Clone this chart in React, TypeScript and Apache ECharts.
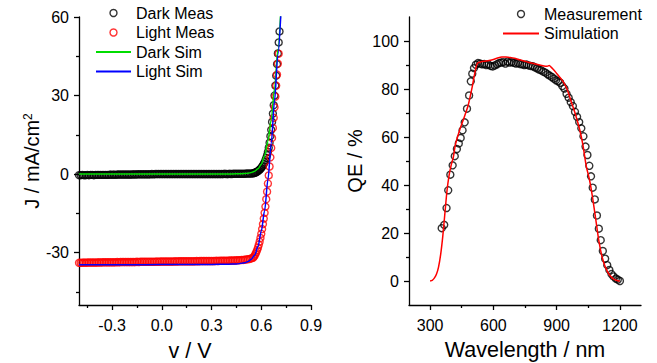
import React, { useEffect, useRef } from 'react';
import * as echarts from 'echarts';

const FONT = "'Liberation Sans', Arial, Helvetica, sans-serif";

// ---------- Left panel: J-V ----------
const measV = [
  -0.5, -0.49, -0.48, -0.47, -0.46, -0.45, -0.44, -0.43, -0.42, -0.41,
  -0.4, -0.39, -0.38, -0.37, -0.36, -0.35, -0.34, -0.33, -0.32, -0.31,
  -0.3, -0.29, -0.28, -0.27, -0.26, -0.25, -0.24, -0.23, -0.22, -0.21,
  -0.2, -0.19, -0.18, -0.17, -0.16, -0.15, -0.14, -0.13, -0.12, -0.11,
  -0.1, -0.09, -0.08, -0.07, -0.06, -0.05, -0.04, -0.03, -0.02, -0.01,
  0.0, 0.01, 0.02, 0.03, 0.04, 0.05, 0.06, 0.07, 0.08, 0.09,
  0.1, 0.11, 0.12, 0.13, 0.14, 0.15, 0.16, 0.17, 0.18, 0.19,
  0.2, 0.21, 0.22, 0.23, 0.24, 0.25, 0.26, 0.27, 0.28, 0.29,
  0.3, 0.31, 0.32, 0.33, 0.34, 0.35, 0.36, 0.37, 0.38, 0.39,
  0.4, 0.41, 0.42, 0.43, 0.44, 0.45, 0.46, 0.47, 0.48, 0.49,
  0.5, 0.51, 0.52, 0.53, 0.54,
  0.55, 0.555, 0.56, 0.565, 0.57, 0.575, 0.58, 0.585, 0.59, 0.595,
  0.6, 0.605, 0.61, 0.615, 0.62, 0.625, 0.63, 0.635, 0.64, 0.645,
  0.65, 0.655, 0.66, 0.665, 0.67, 0.675, 0.68, 0.685, 0.69, 0.695,
  0.7, 0.705, 0.71,
];
const darkMeasJ = [
  -0.4, -0.4, -0.3, -0.4, -0.4, -0.3, -0.4, -0.3, -0.3, -0.4,
  -0.3, -0.3, -0.3, -0.3, -0.3, -0.3, -0.3, -0.3, -0.3, -0.2,
  -0.3, -0.2, -0.3, -0.2, -0.2, -0.2, -0.2, -0.2, -0.2, -0.2,
  -0.2, -0.2, -0.2, -0.1, -0.2, -0.1, -0.1, -0.1, -0.1, -0.1,
  -0.1, -0.1, -0.1, -0.1, 0.0, -0.1, 0.0, 0.0, 0.0, 0.0,
  0.0, 0.0, 0.0, 0.0, 0.0, 0.0, 0.0, 0.0, 0.0, 0.0,
  0.0, 0.0, 0.0, 0.0, 0.0, 0.0, 0.0, 0.0, 0.0, 0.0,
  0.0, 0.0, 0.0, 0.0, 0.0, 0.0, 0.0, 0.0, 0.0, 0.0,
  0.0, 0.0, 0.0, 0.0, 0.0, 0.0, 0.0, 0.0, 0.1, 0.0,
  0.0, 0.1, 0.0, 0.1, 0.1, 0.1, 0.1, 0.1, 0.1, 0.1,
  0.1, 0.2, 0.2, 0.2, 0.2,
  0.3, 0.4, 0.5, 0.6, 0.75, 0.9, 1.15, 1.4, 1.7, 2.0,
  2.4, 2.8, 3.3, 3.9, 4.5, 5.3, 6.2, 7.2, 8.5, 10.1,
  12.0, 14.5, 16.9, 19.9, 23.1, 26.3, 30.0, 33.8, 37.6, 42.0,
  46.1, 50.3, 54.5,
];
const lightMeasJ: (number | null)[] = [
  -33.9, -33.9, -33.9, -33.8, -33.9, -33.8, -33.8, -33.8, -33.8, -33.8,
  -33.8, -33.8, -33.7, -33.8, -33.7, -33.7, -33.7, -33.7, -33.7, -33.7,
  -33.7, -33.7, -33.7, -33.6, -33.7, -33.6, -33.6, -33.6, -33.6, -33.6,
  -33.6, -33.6, -33.6, -33.6, -33.6, -33.5, -33.6, -33.5, -33.5, -33.5,
  -33.5, -33.5, -33.5, -33.5, -33.5, -33.5, -33.5, -33.4, -33.5, -33.4,
  -33.4, -33.4, -33.4, -33.4, -33.4, -33.4, -33.4, -33.4, -33.3, -33.4,
  -33.3, -33.3, -33.3, -33.3, -33.3, -33.3, -33.3, -33.3, -33.3, -33.3,
  -33.3, -33.2, -33.3, -33.2, -33.2, -33.2, -33.2, -33.2, -33.2, -33.2,
  -33.2, -33.2, -33.2, -33.1, -33.2, -33.1, -33.1, -33.1, -33.1, -33.1,
  -33.1, -33.0, -33.0, -33.0, -33.0, -32.9, -32.9, -32.9, -32.8, -32.8,
  -32.7, -32.6, -32.5, -32.4, -32.2,
  -32.0, -31.6, -31.1, -30.5, -29.8, -29.0, -28.1, -27.0, -25.8, -24.4,
  -22.8, -21.0, -19.1, -17.0, -14.8, -12.4, -9.6, -6.7, -3.6, -0.5,
  2.9, 6.4, 10.0, 13.8, 17.6, 21.5, 25.5, 29.6, 33.8, 38.0,
  42.2, 46.0, null,
];
const simV = [-0.5, -0.3, -0.1, 0.1, 0.3, 0.4, 0.45, 0.5, 0.52, 0.54, 0.56, 0.58, 0.6, 0.62, 0.64, 0.66, 0.68, 0.7, 0.72];
const darkSimJ = [0, 0, 0, 0, 0, 0.05, 0.1, 0.2, 0.35, 0.6, 1.1, 2.0, 3.8, 7.0, 12.5, 20.8, 32.5, 47.5, 65.5];
const lightSimJ = [-34.6, -34.6, -34.6, -34.55, -34.5, -34.4, -34.3, -33.9, -33.4, -32.5, -31.0, -27.7, -21.8, -14.0, -2.2, 11.8, 28.0, 45.5, 63.5];

const jvXMajor = [-0.3, 0, 0.3, 0.6, 0.9];
const jvXMinor = [-0.45, -0.15, 0.15, 0.45, 0.75];
const jvYMajor = [-30, 0, 30, 60];
const jvYMinor = [-45, -15, 15, 45];

// ---------- Right panel: QE ----------
const qeMeasWl = [
  355, 367, 378, 386, 396, 407, 417, 427, 436, 445,
  454, 464, 475, 485, 493, 500, 508, 517, 527, 537,
  547, 557, 567, 577, 587, 597, 607, 617, 627, 637,
  647, 657, 667, 677, 687, 697, 707, 717, 727, 737,
  747, 757, 767, 777, 787, 797, 807, 817, 827, 837,
  847, 857, 867, 877, 887, 897, 907, 917, 927, 937,
  947, 957, 967, 977, 987, 997, 1007, 1017, 1027, 1037,
  1046, 1055, 1063, 1071, 1081, 1091, 1100, 1109, 1119, 1130,
  1140, 1150, 1160, 1170, 1181, 1190, 1200,
];
const qeMeasVal = [
  22.0, 23.4, 30.4, 37.8, 44.3, 48.2, 52.0, 55.0, 57.3, 59.6,
  62.8, 66.1, 71.8, 77.3, 83.2, 86.4, 88.7, 90.1, 90.8, 90.6,
  90.3, 90.4, 90.0, 90.2, 89.6, 89.4, 89.8, 90.3, 90.8, 91.0,
  91.2, 90.6, 91.4, 91.0, 91.2, 90.9, 90.6, 90.8, 90.4, 90.3,
  90.0, 90.2, 89.8, 89.6, 89.5, 89.0, 88.6, 88.1, 87.8, 87.2,
  86.8, 86.1, 85.6, 85.0, 84.3, 83.6, 83.2, 82.6, 81.2, 80.2,
  78.0, 76.4, 74.5, 72.9, 70.5, 68.4, 66.2, 63.6, 60.3, 56.0,
  52.5, 48.0, 43.6, 38.9, 34.0, 27.3, 21.8, 17.0, 12.5, 9.3,
  6.6, 4.6, 2.9, 1.9, 1.0, 0.6, 0.0,
];
const qeSimWl = [
  300, 310, 320, 330, 340, 350, 360, 370, 380, 390,
  400, 410, 420, 440, 460, 480, 500, 515, 525, 540,
  560, 580, 600, 620, 640, 660, 680, 700, 720, 740,
  760, 780, 800, 820, 840, 855, 865, 875, 890, 910,
  930, 950, 970, 990, 1010, 1025, 1040, 1055, 1070, 1085,
  1100, 1115, 1130, 1150, 1170, 1190, 1200,
];
const qeSimVal = [
  0, 0.3, 1.2, 2.8, 5.8, 11.0, 18.5, 28.0, 37.5, 44.0,
  48.3, 51.5, 56.8, 62.8, 67.8, 73.0, 81.0, 88.0, 90.8, 91.3,
  91.6, 91.9, 92.3, 92.9, 93.3, 93.3, 93.1, 92.8, 92.3, 91.8,
  91.3, 90.8, 90.4, 90.0, 89.6, 89.5, 89.8, 89.0, 87.6, 85.4,
  83.2, 79.8, 74.5, 69.2, 62.8, 56.5, 48.0, 42.5, 35.0, 26.0,
  16.8, 10.2, 6.0, 2.6, 0.8, 0.1, 0,
];

const qeXMajor = [300, 600, 900, 1200];
const qeXMinor = [450, 750, 1050];
const qeYMajor = [0, 20, 40, 60, 80, 100];
const qeYMinor = [10, 30, 50, 70, 90];

// ---------- helpers ----------
const axisLineStyle = { color: '#000', width: 1.3 };
const labelStyle = { fontFamily: FONT, fontSize: 16, color: '#000' };

function mainAxis(dim: 'x' | 'y', gridIndex: number, min: number, max: number, majors: number[], name: string, nameGap: number, nameStyle: any, fmt: (v: number) => string) {
  return {
    type: 'value',
    gridIndex,
    min,
    max,
    position: dim === 'x' ? 'bottom' : 'left',
    name,
    nameLocation: 'middle',
    nameGap,
    nameTextStyle: nameStyle,
    axisLine: { show: true, onZero: false, lineStyle: axisLineStyle },
    axisTick: { show: true, customValues: majors, length: 5, lineStyle: axisLineStyle },
    axisLabel: { show: true, customValues: majors, formatter: fmt, margin: dim === 'x' ? 12 : 10, ...labelStyle },
    splitLine: { show: false },
  };
}
function minorAxis(dim: 'x' | 'y', gridIndex: number, min: number, max: number, minors: number[]) {
  return {
    type: 'value',
    gridIndex,
    min,
    max,
    position: dim === 'x' ? 'bottom' : 'left',
    axisLine: { show: false, onZero: false },
    axisTick: { show: true, customValues: minors, length: 3, lineStyle: axisLineStyle },
    axisLabel: { show: false },
    splitLine: { show: false },
  };
}

const plain = (v: number) => String(v);
const xNameStyle = { fontFamily: FONT, fontSize: 21.5, color: '#000' };
const yNameStyle = { fontFamily: FONT, fontSize: 20, color: '#000' };
const jNameStyle = {
  fontFamily: FONT,
  fontSize: 20,
  color: '#000',
  rich: {
    a: { fontFamily: FONT, fontSize: 20, color: '#000' },
    s: { fontFamily: FONT, fontSize: 12, color: '#000', verticalAlign: 'top' },
  },
};

const emptyMarker = (c: string) => ({ color: 'rgba(0,0,0,0)', borderColor: c, borderWidth: 1.4 });
const noSymbol = { color: 'rgba(0,0,0,0)', borderColor: 'rgba(0,0,0,0)', borderWidth: 0 };

const option: any = {
  animation: false,
  backgroundColor: '#fff',
  grid: [
    { left: 79, top: 17, width: 232, height: 288, outerBoundsMode: 'none', containLabel: false },
    { left: 409, top: 17, width: 232, height: 288, outerBoundsMode: 'none', containLabel: false },
  ],
  legend: [
    {
      left: 95,
      top: 5,
      padding: 0,
      orient: 'vertical',
      itemWidth: 35,
      itemHeight: 7,
      itemGap: 3.5,
      selectedMode: false,
      textStyle: { fontFamily: FONT, fontSize: 16, color: '#000' },
      data: [
        { name: 'Dark Meas', icon: 'circle', itemStyle: emptyMarker('#000') },
        { name: 'Light Meas', icon: 'circle', itemStyle: emptyMarker('#ff0000') },
        { name: 'Dark Sim', itemStyle: noSymbol },
        { name: 'Light Sim', itemStyle: noSymbol },
      ],
    },
    {
      left: 502,
      top: 6,
      padding: 0,
      orient: 'vertical',
      itemWidth: 36,
      itemHeight: 7,
      itemGap: 3.5,
      selectedMode: false,
      textStyle: { fontFamily: FONT, fontSize: 16, color: '#000' },
      data: [
        { name: 'Measurement', icon: 'circle', itemStyle: emptyMarker('#000') },
        { name: 'Simulation', itemStyle: noSymbol },
      ],
    },
  ],
  xAxis: [
    mainAxis('x', 0, -0.5, 0.9, jvXMajor, 'v / V', 35, { ...xNameStyle, padding: [0, 10, 0, 0] }, (v: number) => v.toFixed(1)),
    minorAxis('x', 0, -0.5, 0.9, jvXMinor),
    mainAxis('x', 1, 200, 1300, qeXMajor, 'Wavelength / nm', 34, xNameStyle, plain),
    minorAxis('x', 1, 200, 1300, qeXMinor),
  ],
  yAxis: [
    mainAxis('y', 0, -50, 60, jvYMajor, '{a|J / mA/cm}{s|2}', 34, jNameStyle, plain),
    minorAxis('y', 0, -50, 60, jvYMinor),
    mainAxis('y', 1, -10, 110, qeYMajor, 'QE / %', 44, yNameStyle, plain),
    minorAxis('y', 1, -10, 110, qeYMinor),
  ],
  series: [
    {
      name: 'Dark Meas',
      type: 'scatter',
      xAxisIndex: 0,
      yAxisIndex: 0,
      symbol: 'circle',
      symbolSize: 7,
      itemStyle: emptyMarker('#000'),
      data: measV.map((v, i) => [v, darkMeasJ[i]]),
    },
    {
      name: 'Light Meas',
      type: 'scatter',
      xAxisIndex: 0,
      yAxisIndex: 0,
      symbol: 'circle',
      symbolSize: 7,
      itemStyle: emptyMarker('#ff0000'),
      data: measV.map((v, i) => [v, lightMeasJ[i]]).filter((p) => p[1] !== null),
    },
    {
      name: 'Dark Sim',
      type: 'line',
      xAxisIndex: 0,
      yAxisIndex: 0,
      symbol: 'circle',
      symbolSize: 0,
      showSymbol: false,
      smooth: 0.3,
      smoothMonotone: 'x',
      clip: true,
      lineStyle: { color: '#00dd00', width: 1.5 },
      itemStyle: noSymbol,
      data: simV.map((v, i) => [v, darkSimJ[i]]),
    },
    {
      name: 'Light Sim',
      type: 'line',
      xAxisIndex: 0,
      yAxisIndex: 0,
      symbol: 'circle',
      symbolSize: 0,
      showSymbol: false,
      smooth: 0.3,
      smoothMonotone: 'x',
      clip: true,
      lineStyle: { color: '#0000ff', width: 1.5 },
      itemStyle: noSymbol,
      data: simV.map((v, i) => [v, lightSimJ[i]]),
    },
    {
      name: 'Measurement',
      type: 'scatter',
      xAxisIndex: 2,
      yAxisIndex: 2,
      symbol: 'circle',
      symbolSize: 7,
      itemStyle: emptyMarker('#000'),
      data: qeMeasWl.map((w, i) => [w, qeMeasVal[i]]),
    },
    {
      name: 'Simulation',
      type: 'line',
      xAxisIndex: 2,
      yAxisIndex: 2,
      symbol: 'circle',
      symbolSize: 0,
      showSymbol: false,
      smooth: 0.2,
      lineStyle: { color: '#ff0000', width: 1.5 },
      itemStyle: noSymbol,
      data: qeSimWl.map((w, i) => [w, qeSimVal[i]]),
    },
  ],
};

export default function App() {
  const ref = useRef<HTMLDivElement>(null);
  useEffect(() => {
    document.body.style.margin = '0';
    const chart = echarts.init(ref.current as HTMLDivElement, null, { renderer: 'svg' });
    chart.setOption(option);
    return () => chart.dispose();
  }, []);
  return <div ref={ref} style={{ width: 657, height: 363 }} />;
}
